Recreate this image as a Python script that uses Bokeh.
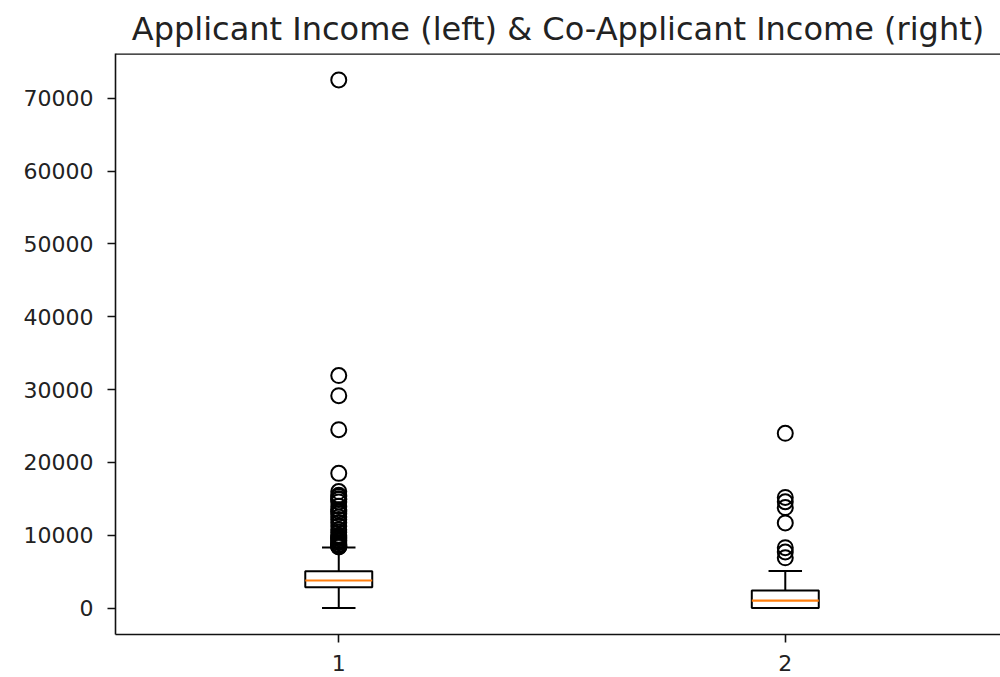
from bokeh.plotting import figure
from bokeh.models import ColumnDataSource, FixedTicker, Range1d, Span
from bokeh.embed import file_html
from bokeh.resources import INLINE

# ---- data ----
categories = ["1", "2"]
positions = [1, 2]
whisker_low = [0, 0]
q1 = [2864, 0]
median = [3786, 1025]
q3 = [5060, 2430]
whisker_high = [8333, 5100]

applicant_outliers = [72529, 31924, 29167, 24500, 18500, 16000, 15500, 15312,
                      14999, 14911, 14583, 14000, 13518, 13262, 12941, 12500,
                      12173, 11757, 11250, 10750, 10413, 10000, 9833, 9703,
                      9538, 9328, 9167, 8980, 8750, 8666, 8566, 8500, 8450, 8400]
coapplicant_outliers = [24000, 15200, 14600, 13800, 11700, 8300, 7700, 6900]

y_ticks = [0, 10000, 20000, 30000, 40000, 50000, 60000, 70000]
title_text = "Applicant Income (left) & Co-Applicant Income (right)"

FONT = "DejaVu Sans"
TXT = "#222222"
box_width = 0.15
cap_width = 0.075
Y0, Y1 = -3626, 76155

p = figure(width=1000, height=677, output_backend="svg", toolbar_location=None,
           x_range=Range1d(0.5, 2.482), y_range=Range1d(Y0, Y1),
           min_border_left=115, min_border_right=0, min_border_top=53,
           min_border_bottom=43, title=title_text)

p.title.text_font = FONT
p.title.text_font_size = "32px"
p.title.text_font_style = "normal"
p.title.text_color = TXT
p.title.align = "center"
p.title.standoff = 12

p.outline_line_color = None
p.xgrid.visible = False
p.ygrid.visible = False
p.background_fill_color = "white"
p.border_fill_color = "white"

for ax in (p.xaxis[0], p.yaxis[0]):
    ax.axis_line_color = "#111111"
    ax.axis_line_width = 1.6
    ax.major_tick_line_color = "#111111"
    ax.major_tick_line_width = 1.6
    ax.major_tick_out = 8
    ax.major_tick_in = 0
    ax.minor_tick_line_color = None
    ax.major_label_text_font = FONT
    ax.major_label_text_font_size = "22px"
    ax.major_label_text_color = TXT

p.yaxis[0].ticker = FixedTicker(ticks=y_ticks)
p.yaxis[0].major_label_standoff = 14
p.xaxis[0].ticker = FixedTicker(ticks=positions)
p.xaxis[0].major_label_overrides = {pos: lab for pos, lab in zip(positions, categories)}
p.xaxis[0].major_label_standoff = 12

# top frame edge (the right edge falls outside the picture in the reference)
p.add_layout(Span(location=Y1, dimension="width", line_color="#111111", line_width=2.5))

src = ColumnDataSource(dict(
    x=positions, q1=q1, q3=q3, med=median, lo=whisker_low, hi=whisker_high,
    xl=[x - box_width / 2 for x in positions], xr=[x + box_width / 2 for x in positions],
    cl=[x - cap_width / 2 for x in positions], cr=[x + cap_width / 2 for x in positions],
))

# whiskers
p.segment(x0="x", y0="q3", x1="x", y1="hi", source=src, line_color="black", line_width=2)
p.segment(x0="x", y0="q1", x1="x", y1="lo", source=src, line_color="black", line_width=2)
# caps
p.segment(x0="cl", y0="hi", x1="cr", y1="hi", source=src, line_color="black", line_width=2)
p.segment(x0="cl", y0="lo", x1="cr", y1="lo", source=src, line_color="black", line_width=2)
# boxes
p.vbar(x="x", width=box_width, top="q3", bottom="q1", source=src,
       fill_color="white", fill_alpha=0.0, line_color="black", line_width=2)
# medians
p.segment(x0="xl", y0="med", x1="xr", y1="med", source=src, line_color="#ff7f0e", line_width=2.2)

# outliers
ox = [positions[0]] * len(applicant_outliers) + [positions[1]] * len(coapplicant_outliers)
oy = applicant_outliers + coapplicant_outliers
p.scatter(x=ox, y=oy, marker="circle", size=15, fill_color=None,
          line_color="black", line_width=2)

open("out.html", "w").write(file_html(p, INLINE))
